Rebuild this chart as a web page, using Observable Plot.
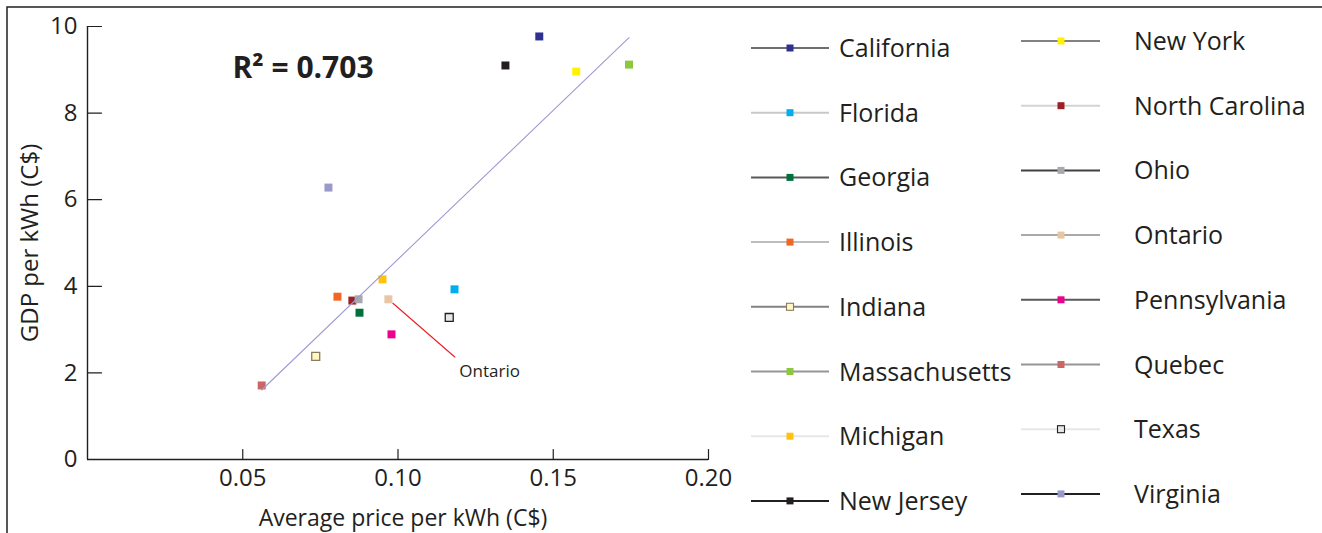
<!DOCTYPE html>
<html>
<head>
<meta charset="utf-8">
<script src="https://cdn.jsdelivr.net/npm/d3@7"></script>
<script src="https://cdn.jsdelivr.net/npm/@observablehq/plot@0.6"></script>
<style>
  body { margin: 0; background: #fff; }
  #wrap { position: relative; width: 1322px; height: 533px; font-family: "Open Sans", sans-serif; }
  #overlay { position: absolute; left: 0; top: 0; pointer-events: none; }
</style>
</head>
<body>
<div id="wrap"></div>
<script>
// ---- data ----
const states = ["California","Florida","Georgia","Illinois","Indiana","Massachusetts","Michigan","New Jersey",
                "New York","North Carolina","Ohio","Ontario","Pennsylvania","Quebec","Texas","Virginia"];
const price = [0.1455,0.1182,0.0876,0.0805,0.0735,0.1744,0.0950,0.1346,
               0.1574,0.0853,0.0873,0.0969,0.0979,0.0561,0.1165,0.0776];
const gdp = [9.77,3.93,3.39,3.76,2.38,9.12,4.16,9.10,
             8.96,3.67,3.70,3.70,2.89,1.71,3.28,6.28];
const fills = ["#2e3192","#00aeef","#00703c","#f26522","#fff8c6","#8dc63f","#ffc20e","#231f20",
               "#fff200","#9e1f24","#a7a9ac","#e8c6a5","#ec008c","#cc6666","#e6e7e8","#9999cc"];
const strokes = ["none","none","none","none","#8c7b5a","none","none","none",
                 "none","none","none","none","none","none","#231f20","none"];
const legendLines = ["#6d6e71","#c7c8ca","#58595b","#bcbec0","#808285","#939598","#e6e7e8","#231f20",
                     "#808285","#d1d3d4","#414042","#a7a9ac","#58595b","#939598","#e6e7e8","#231f20"];
const xTicks = [0.05, 0.10, 0.15, 0.20];
const yTicks = [0, 2, 4, 6, 8, 10];
const rSquaredText = "R² = 0.703";
const annotated = "Ontario";
const xLabel = "Average price per kWh (C$)";
const yLabel = "GDP per kWh (C$)";

const data = states.map((s, i) => ({state: s, price: price[i], gdp: gdp[i], fill: fills[i], stroke: strokes[i]}));
const ann = data.filter(d => d.state === annotated);

const ink = "#231f20";
const tickShape = {draw(ctx, l) { ctx.moveTo(0, 0); ctx.lineTo(0, -l); }};
const leaderShape = {draw(ctx, l) { ctx.moveTo(0, -6); ctx.lineTo(0, -l); }};

const chart = Plot.plot({
  width: 1322, height: 533,
  marginLeft: 87, marginRight: 614, marginTop: 26, marginBottom: 74,
  x: {domain: [0, 0.2]},
  y: {domain: [0, 10]},
  color: {type: "identity"},
  style: {fontFamily: "'Open Sans', sans-serif", color: ink, background: "#fff", overflow: "visible"},
  marks: [
    Plot.axisX({ticks: xTicks, tickFormat: d3.format(".2f"), tickSize: 0, tickPadding: 9, fontSize: 24, label: null, fill: ink}),
    Plot.axisY({ticks: yTicks, tickSize: 0, tickPadding: 10, fontSize: 24, label: null, fill: ink}),
    Plot.ruleX([0], {stroke: ink, strokeWidth: 1.4}),
    Plot.ruleY([0], {stroke: ink, strokeWidth: 1.4}),
    Plot.vector(yTicks, {x: 0, y: d => d, length: 14, rotate: 90, anchor: "start", shape: tickShape, stroke: ink, strokeWidth: 1.2}),
    Plot.vector(xTicks, {x: d => d, y: 0, length: 10, rotate: 0, anchor: "start", shape: tickShape, stroke: ink, strokeWidth: 1.2}),
    Plot.dot(data, {x: "price", y: "gdp", symbol: "square", r: 4.5, fill: "fill", stroke: "stroke", strokeWidth: 1.3}),
    Plot.linearRegressionY(data, {x: "price", y: "gdp", ci: 0, stroke: "#9d9ad4", strokeWidth: 1.1}),
    Plot.vector(ann, {x: "price", y: "gdp", length: 88, rotate: 131, anchor: "start", shape: leaderShape, stroke: "#ed1c24", strokeWidth: 1.1}),
    Plot.text(ann, {x: "price", y: "gdp", text: "state", dx: 71, dy: 72, textAnchor: "start", fontSize: 17, fill: ink}),
    Plot.text([rSquaredText], {frameAnchor: "top-left", text: d => d, dx: 145, dy: 42, textAnchor: "start", lineAnchor: "middle", fontSize: 30, fontWeight: "bold", fill: ink}),
    Plot.text([xLabel], {frameAnchor: "bottom", text: d => d, dx: 5, dy: 59, lineAnchor: "middle", fontSize: 23, fill: ink}),
    Plot.text([yLabel], {frameAnchor: "left", text: d => d, dx: -57, rotate: -90, textAnchor: "middle", lineAnchor: "middle", fontSize: 24, fill: ink})
  ]
});
document.getElementById("wrap").appendChild(chart);

// ---- legend and frame overlay ----
const svg = d3.select("#wrap").append("svg").attr("id", "overlay").attr("width", 1322).attr("height", 533);
svg.append("path").attr("d", "M7,533V7H1322").attr("fill", "none").attr("stroke", ink).attr("stroke-width", 1.5);
const cols = [
  {x0: 751, x1: 829, mx: 790, tx: 839, y0: 48},
  {x0: 1021, x1: 1100, mx: 1061, tx: 1134, y0: 41}
];
const rowStep = 64.7;
states.forEach((s, i) => {
  const c = cols[Math.floor(i / 8)];
  const y = c.y0 + (i % 8) * rowStep;
  const g = svg.append("g");
  g.append("line").attr("x1", c.x0).attr("x2", c.x1).attr("y1", y).attr("y2", y)
    .attr("stroke", legendLines[i]).attr("stroke-width", 2);
  const m = 7;
  g.append("rect").attr("x", c.mx - m / 2).attr("y", y - m / 2).attr("width", m).attr("height", m)
    .attr("fill", fills[i]).attr("stroke", strokes[i]).attr("stroke-width", 1.1);
  g.append("text").attr("x", c.tx).attr("y", y).attr("dy", "0.36em")
    .attr("font-family", "'Open Sans', sans-serif").attr("font-size", 25).attr("fill", ink).text(s);
});
</script>
</body>
</html>
